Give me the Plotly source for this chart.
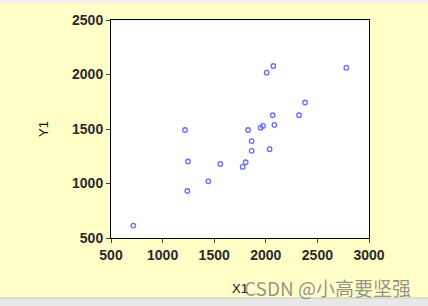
import plotly.graph_objects as go

x1 = [716, 1217, 1246, 1240, 1443, 1559, 1776, 1805, 1828, 1863, 1863,
      1950, 1973, 2037, 2008, 2073, 2067, 2083, 2322, 2380, 2780]
y1 = [614, 1491, 1202, 931, 1020, 1180, 1152, 1195, 1491, 1389, 1300,
      1512, 1528, 1315, 2017, 2078, 1626, 1537, 1626, 1743, 2063]
x_ticks = [500, 1000, 1500, 2000, 2500, 3000]
y_ticks = [500, 1000, 1500, 2000, 2500]

bg = "#FFFFC8"
fig = go.Figure(go.Scatter(
    x=x1, y=y1, mode="markers",
    marker=dict(symbol="circle-open", size=4.5, color="#6A6AFF", line=dict(width=1.3)),
))

axis_common = dict(
    showgrid=False, zeroline=False, showline=True, linecolor="black", linewidth=1,
    mirror=True, ticks="outside", ticklen=4, tickcolor="#444",
    tickfont=dict(family="Liberation Sans, Arial", size=14, color="#2a2a2a", weight="bold"),
)
title_font = dict(family="Liberation Sans, Arial", size=13, color="#111")
fig.update_xaxes(range=[500, 3000], tickvals=x_ticks,
                 title=dict(text="X1", font=title_font, standoff=22),
                 **axis_common)
fig.update_yaxes(range=[500, 2500], tickvals=y_ticks,
                 title=dict(text="Y1", font=title_font, standoff=20),
                 **axis_common)

H = 218
fig.update_layout(
    width=428, height=306,
    margin=dict(l=111, r=59, t=20, b=68),
    paper_bgcolor=bg, plot_bgcolor="white",
    showlegend=False,
    shapes=[
        dict(type="rect", xref="paper", yref="paper", x0=-0.5, x1=1.5,
             y0=-68/H - 0.01, y1=-60/H, fillcolor="#E8E8E8", line=dict(width=0), layer="above"),
        dict(type="line", xref="paper", yref="paper", x0=-0.5, x1=1.5,
             y0=-60/H, y1=-60/H, line=dict(color="#C8C8C8", width=1), layer="above"),
        dict(type="rect", xref="paper", yref="paper", x0=-0.5, x1=1.5,
             y0=1 + 17/H, y1=1 + 21/H, fillcolor="#F2F2F2", line=dict(width=0), layer="above"),
    ],
    annotations=[
        dict(text="CSDN @小高要坚强", xref="paper", yref="paper", x=(413 - 111) / 258, y=-49 / H,
             xanchor="right", yanchor="middle", showarrow=False,
             font=dict(family="Noto Sans CJK SC", size=19, color="rgba(120,120,120,0.8)")),
    ],
)
fig.write_html("out.html")
